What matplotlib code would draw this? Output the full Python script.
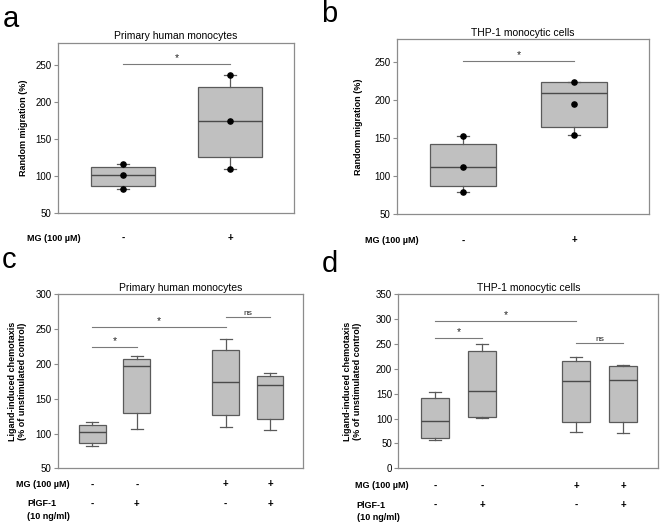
import matplotlib
matplotlib.use('Agg')
import matplotlib.pyplot as plt
import matplotlib.transforms as mtrans

plt.rcParams['font.family'] = ['Liberation Sans', 'DejaVu Sans']

# ---- data ----
# panel a: primary human monocytes, random migration
a_pos = [1, 2]
a_q1 = [86.5, 125.3]
a_med = [101.4, 174.0]
a_q3 = [112.2, 220.0]
a_lo = [81.5, 109.5]
a_hi = [115.8, 236.3]
a_pts = [[81.5, 101.4, 115.8], [109.5, 174.0, 236.3]]
a_mg = ['-', '+']

# panel b: THP-1 cells, random migration
b_pos = [1, 2]
b_q1 = [87.7, 164.5]
b_med = [111.8, 209.6]
b_q3 = [142.5, 223.7]
b_lo = [79.0, 154.8]
b_hi = [153.0, 224.1]
b_pts = [[79.0, 111.8, 153.0], [154.8, 195.2, 224.1]]
b_mg = ['-', '+']

# panel c: primary human monocytes, chemotaxis
c_pos = [1, 2, 4, 5]
c_q1 = [86.7, 129.5, 126.2, 121.0]
c_med = [102.4, 197.0, 174.3, 169.0]
c_q3 = [112.9, 207.6, 220.5, 181.9]
c_lo = [82.0, 106.7, 110.0, 104.8]
c_hi = [117.0, 211.4, 236.0, 186.7]

# panel d: THP-1 cells, chemotaxis
d_pos = [1, 2, 4, 5]
d_q1 = [61.8, 103.7, 93.8, 93.8]
d_med = [95.7, 155.6, 174.9, 177.5]
d_q3 = [142.3, 236.7, 216.0, 204.8]
d_lo = [57.2, 101.0, 72.5, 71.8]
d_hi = [153.0, 249.3, 223.4, 207.4]

mg_cd = ['-', '-', '+', '+']
plgf_cd = ['-', '+', '-', '+']

# significance bars: (from, to, y, label)
a_sig = [(1, 2, 251.7, '*')]
b_sig = [(1, 2, 251.8, '*')]
c_sig = [(1, 4, 252.9, '*'), (1, 2, 224.8, '*'), (4, 5, 266.7, 'ns')]
d_sig = [(1, 4, 297.2, '*'), (1, 2, 262.0, '*'), (4, 5, 251.3, 'ns')]

W, H = 660, 522
fig = plt.figure(figsize=(6.6, 5.22), dpi=100)


def px_axes(l, t, r, b):
    return fig.add_axes([l / W, 1 - b / H, (r - l) / W, (b - t) / H])


def draw_boxes(ax, pos, q1, med, q3, lo, hi, capw):
    stats = []
    for i in range(len(pos)):
        stats.append(dict(med=med[i], q1=q1[i], q3=q3[i], whislo=lo[i], whishi=hi[i], fliers=[]))
    ax.bxp(stats, positions=pos, widths=0.6, capwidths=capw, patch_artist=True,
           showfliers=False, manage_ticks=False,
           boxprops=dict(facecolor='#c0c0c0', edgecolor='#5a5a5a', linewidth=0.9),
           medianprops=dict(color='#4a4a4a', linewidth=1.0),
           whiskerprops=dict(color='#5a5a5a', linewidth=0.9),
           capprops=dict(color='#5a5a5a', linewidth=0.9))


def style(ax, title, ylim, yticks, ylabel, labx):
    ax.set_ylim(ylim)
    ax.set_yticks(yticks)
    ax.set_xticks([])
    for s in ax.spines.values():
        s.set_color('#8c8c8c')
        s.set_linewidth(0.9)
    ax.tick_params(axis='y', direction='out', length=3, width=0.8, color='#8c8c8c',
                   labelsize=7, pad=1.5)
    ax.set_title(title, fontsize=7.5, pad=2.5)
    ax.set_ylabel(ylabel, fontsize=6.5, fontweight='bold', linespacing=1.1)
    ax.yaxis.set_label_coords(labx, 0.5)


def sig(ax, bars):
    for x1, x2, y, lab in bars:
        ax.plot([x1, x2], [y, y], color='#7a7a7a', linewidth=0.8)
        fs = 7.5 if lab == '*' else 6
        ax.annotate(lab, xy=((x1 + x2) / 2, y), xytext=(0, 0.5), textcoords='offset points',
                    ha='center', va='bottom', fontsize=fs, color='#222222')


def row(ax, label_x, y, label, pos, signs):
    fig.text(label_x / W, 1 - y / H, label, fontsize=6.5, fontweight='bold', va='center')
    tr = mtrans.blended_transform_factory(ax.transData, fig.transFigure)
    for p, s in zip(pos, signs):
        ax.text(p, 1 - y / H, s, transform=tr, ha='center', va='center', fontsize=7,
                fontweight='bold')


# a
ax_a = px_axes(57.7, 42.7, 294.3, 212.7)
draw_boxes(ax_a, a_pos, a_q1, a_med, a_q3, a_lo, a_hi, 0.11)
for p, ys in zip(a_pos, a_pts):
    ax_a.scatter([p] * len(ys), ys, s=14, color='black', zorder=5)
ax_a.set_xlim(0.39, 2.6)
style(ax_a, 'Primary human monocytes', (50, 280), [50, 100, 150, 200, 250],
      'Random migration (%)', -0.124)
sig(ax_a, a_sig)
row(ax_a, 27, 238, 'MG (100 µM)', a_pos, a_mg)

# b
ax_b = px_axes(396.7, 39.3, 649.3, 214.3)
draw_boxes(ax_b, b_pos, b_q1, b_med, b_q3, b_lo, b_hi, 0.11)
for p, ys in zip(b_pos, b_pts):
    ax_b.scatter([p] * len(ys), ys, s=14, color='black', zorder=5)
ax_b.set_xlim(0.4, 2.68)
style(ax_b, 'THP-1 monocytic cells', (50, 280), [50, 100, 150, 200, 250],
      'Random migration (%)', -0.132)
sig(ax_b, b_sig)
row(ax_b, 365, 240.5, 'MG (100 µM)', b_pos, b_mg)

# c
ax_c = px_axes(57.7, 294.3, 303.3, 468.3)
draw_boxes(ax_c, c_pos, c_q1, c_med, c_q3, c_lo, c_hi, 0.27)
ax_c.set_xlim(0.22, 5.75)
style(ax_c, 'Primary human monocytes', (50, 300), [50, 100, 150, 200, 250, 300],
      'Ligand-induced chemotaxis\n(% of unstimulated control)', -0.126)
sig(ax_c, c_sig)
row(ax_c, 16, 484.5, 'MG (100 µM)', c_pos, mg_cd)
row(ax_c, 27, 503.5, 'PlGF-1', c_pos, plgf_cd)
fig.text(27 / W, 1 - 516.5 / H, '(10 ng/ml)', fontsize=6.5, fontweight='bold', va='center')

# d
ax_d = px_axes(398.3, 294.3, 658.3, 468.3)
draw_boxes(ax_d, d_pos, d_q1, d_med, d_q3, d_lo, d_hi, 0.27)
ax_d.set_xlim(0.22, 5.75)
style(ax_d, 'THP-1 monocytic cells', (0, 350), [0, 50, 100, 150, 200, 250, 300, 350],
      'Ligand-induced chemotaxis\n(% of unstimulated control)', -0.141)
sig(ax_d, d_sig)
row(ax_d, 355, 486, 'MG (100 µM)', d_pos, mg_cd)
row(ax_d, 356.7, 505, 'PlGF-1', d_pos, plgf_cd)
fig.text(356.7 / W, 1 - 517.7 / H, '(10 ng/ml)', fontsize=6.5, fontweight='bold', va='center')

# panel letters
for lab, x, y in [('a', 3, 27), ('b', 321, 22), ('c', 2, 268), ('d', 322, 272)]:
    fig.text(x / W, 1 - y / H, lab, fontsize=21, va='baseline')

fig.savefig('out.png', dpi=100)
